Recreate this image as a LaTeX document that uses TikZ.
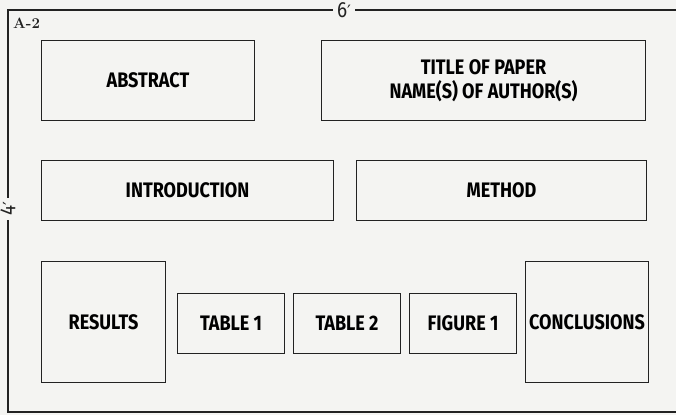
\documentclass[tikz,border=0pt]{standalone}
\usepackage{fontspec}
\newfontfamily\postfont[FakeStretch=0.86]{Fira Sans}
\newfontfamily\primefont{DejaVu Sans}
\usetikzlibrary{positioning}
\definecolor{paper}{HTML}{F4F4F2}
\definecolor{ink}{HTML}{222222}
\tikzset{
  panel/.style={rectangle,draw=ink,line width=1.1pt,align=center,inner sep=2pt,
    font=\postfont\bfseries\fontsize{21}{24}\selectfont,anchor=north west},
  small/.style={panel,minimum width=107pt,minimum height=60pt},
  dim/.style={font=\postfont\fontsize{22}{22}\selectfont,inner sep=4pt,text=ink},
  frame/.style={draw=ink,line width=1.2pt},
}

\begin{document}
\begin{tikzpicture}[x=1pt,y=-1pt]
  \fill[paper] (0,0) rectangle (676,415);
  \useasboundingbox (0,0) rectangle (676,415);
  % poster sheet, 6' by 4'
  \coordinate (tl) at (8,10);
  \coordinate (bl) at (8,412);
  \coordinate (tr) at (676,10);
  \coordinate (br) at (676,412);
  \node[dim] (six) at (344,10) {6{\primefont\fontsize{17}{17}\selectfont ′}};
  \node[dim,rotate=90] (four) at (8,209) {4{\primefont\fontsize{17}{17}\selectfont ′}};
  \draw[frame] (six) -- (tl) -- (four) -- (bl) -- (br);
  \draw[frame] (six) -- (tr);
  \node[anchor=base west,inner sep=0pt,font=\bfseries\fontsize{15}{15}\selectfont,text=ink] (tag) at (13,28) {A-2};
  % top row
  \node[panel,minimum width=213pt,minimum height=80pt] (abs) at (41,40) {ABSTRACT};
  \node[panel,minimum width=324pt,minimum height=80pt] (title) at (321,40) {TITLE OF PAPER\\NAME(S) OF AUTHOR(S)};
  % middle row
  \node[panel,minimum width=292pt,minimum height=60pt] (intro) at (41,160) {INTRODUCTION};
  \node[panel,minimum width=290pt,minimum height=60pt] (meth) at (356,160) {METHOD};
  % bottom row
  \node[panel,minimum width=124pt,minimum height=121pt] (res) at (41,261) {RESULTS};
  \node[small] (tabA) at (177,293) {TABLE 1};
  \node[small] (tabB) at (293,293) {TABLE 2};
  \node[small] (figA) at (409,293) {FIGURE 1};
  \node[panel,minimum width=123pt,minimum height=121pt] (conc) at (525,261) {CONCLUSIONS};
\end{tikzpicture}
\end{document}
